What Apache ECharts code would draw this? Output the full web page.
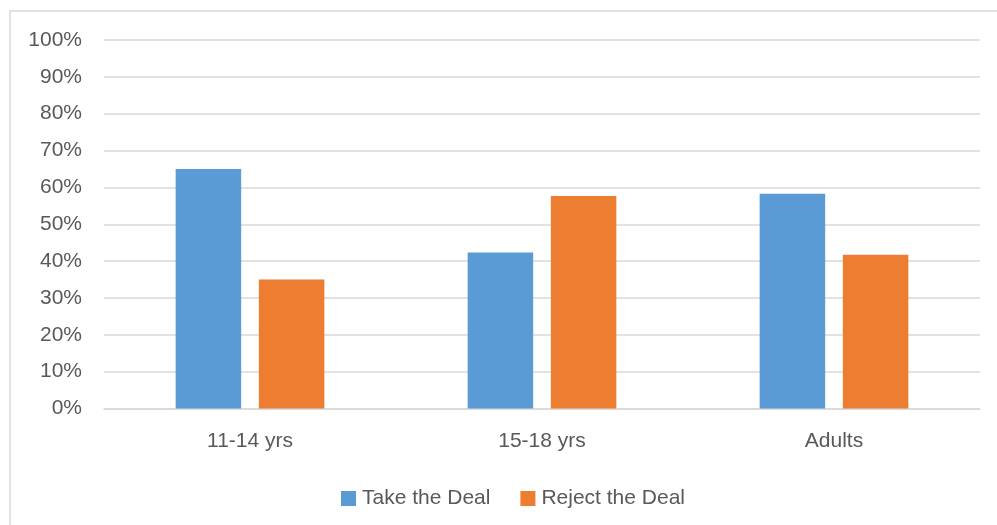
<!DOCTYPE html>
<html>
<head>
<meta charset="utf-8">
<script src="https://cdn.jsdelivr.net/npm/echarts@6/dist/echarts.min.js"></script>
<style>
  html, body { margin: 0; padding: 0; background: #ffffff; }
  #chart { width: 997px; height: 525px; }
</style>
</head>
<body>
<div id="chart"></div>
<script>
// Age groups and the share of each group choosing each option (percent)
const categories = ['11-14 yrs', '15-18 yrs', 'Adults'];
const takeDeal = [65, 42.3, 58.3];
const rejectDeal = [35, 57.7, 41.7];
const seriesNames = ['Take the Deal', 'Reject the Deal'];

const textColor = '#595959';
const gridColor = '#d9d9d9';
const fontFamily = '"Liberation Sans", Arial, sans-serif';

const chart = echarts.init(document.getElementById('chart'), null, { renderer: 'canvas' });

chart.setOption({
  backgroundColor: '#ffffff',
  animation: false,
  color: ['#5b9bd5', '#ed7d31'],
  graphic: [{
    type: 'rect',
    shape: { x: 10, y: 11, width: 1010, height: 540 },
    style: { fill: 'none', stroke: gridColor, lineWidth: 1.5 },
    silent: true,
    z: -1
  }],
  grid: { left: 104, right: 17, top: 40, bottom: 116.5, containLabel: false },
  legend: {
    data: seriesNames,
    left: 336,
    top: 483,
    itemWidth: 15,
    itemHeight: 15,
    itemGap: 30,
    icon: 'rect',
    textStyle: { color: textColor, fontSize: 21, fontFamily: fontFamily, padding: [0, 0, 0, 1] }
  },
  xAxis: {
    type: 'category',
    data: categories,
    axisLine: { show: true, lineStyle: { color: gridColor, width: 1.5 } },
    axisTick: { show: false },
    axisLabel: { color: textColor, fontSize: 21, fontFamily: fontFamily, margin: 22 }
  },
  yAxis: {
    type: 'value',
    min: 0,
    max: 100,
    interval: 10,
    axisLine: { show: false },
    axisTick: { show: false },
    splitLine: { lineStyle: { color: gridColor, width: 1.5 } },
    axisLabel: { color: textColor, fontSize: 21, fontFamily: fontFamily, margin: 22, formatter: '{value}%' }
  },
  series: [
    { name: seriesNames[0], type: 'bar', data: takeDeal, barWidth: 65.5, barGap: '27%' },
    { name: seriesNames[1], type: 'bar', data: rejectDeal, barWidth: 65.5, barGap: '27%' }
  ]
});
</script>
</body>
</html>
